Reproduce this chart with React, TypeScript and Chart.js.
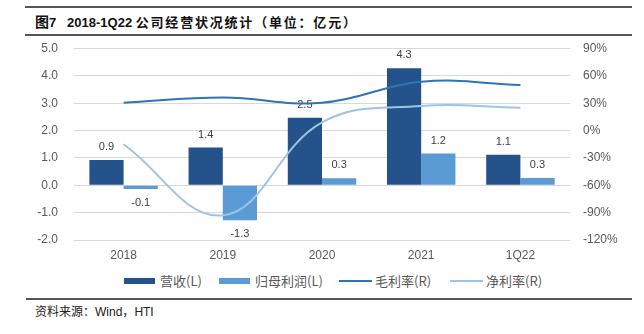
import React, { useEffect, useRef } from "react";
import { Chart, registerables } from "chart.js";

Chart.register(...registerables);

const categories = ["2018", "2019", "2020", "2021", "1Q22"];
const revenue = [0.92, 1.38, 2.47, 4.28, 1.12];
const netProfit = [-0.14, -1.28, 0.26, 1.16, 0.27];
const grossMargin = [30.5, 36.3, 30.4, 53.5, 50.0];
const netMargin = [-15, -93, 9, 27, 25];

const LATIN = '"Liberation Sans", Arial, "Noto Sans CJK SC", sans-serif';
const CJK = '"Noto Sans CJK SC", "Liberation Sans", sans-serif';

const C_REV = "#23538A";
const C_PROFIT = "#5B9BD5";
const C_GROSS = "#2E75B6";
const C_NET = "#9DC3E6";

const barLabels = {
  id: "barLabels",
  beforeDatasetsDraw(chart: any) {
    const ctx = chart.ctx;
    ctx.save();
    ctx.font = `11px ${LATIN}`;
    ctx.fillStyle = "#404040";
    ctx.textAlign = "center";
    ctx.textBaseline = "middle";
    [0, 1].forEach((di) => {
      const meta = chart.getDatasetMeta(di);
      const data = chart.data.datasets[di].data as number[];
      meta.data.forEach((bar: any, j: number) => {
        const v = data[j];
        const y = v >= 0 ? bar.y - 13 : bar.y + 14;
        ctx.fillText(v.toFixed(1), bar.x, y);
      });
    });
    ctx.restore();
  },
};

export default function App() {
  const ref = useRef<HTMLCanvasElement>(null);

  useEffect(() => {
    if (!ref.current) return;
    const chart = new Chart(ref.current, {
      type: "bar",
      data: {
        labels: categories,
        datasets: [
          {
            type: "bar",
            label: "营收(L)",
            data: revenue,
            backgroundColor: C_REV,
            yAxisID: "y",
            order: 2,
            barPercentage: 1,
            categoryPercentage: 0.69,
          },
          {
            type: "bar",
            label: "归母利润(L)",
            data: netProfit,
            backgroundColor: C_PROFIT,
            yAxisID: "y",
            order: 2,
            barPercentage: 1,
            categoryPercentage: 0.69,
          },
          {
            type: "line",
            label: "毛利率(R)",
            data: grossMargin,
            borderColor: C_GROSS,
            backgroundColor: C_GROSS,
            borderWidth: 2,
            pointRadius: 0,
            tension: 0.4,
            yAxisID: "y1",
            order: 0,
          },
          {
            type: "line",
            label: "净利率(R)",
            data: netMargin,
            borderColor: C_NET,
            backgroundColor: C_NET,
            borderWidth: 2,
            pointRadius: 0,
            tension: 0.4,
            yAxisID: "y1",
            order: 1,
          },
        ],
      } as any,
      options: {
        responsive: false,
        animation: false,
        layout: { padding: { top: 12.5, bottom: 0, left: 0, right: 0 } },
        plugins: {
          legend: { display: false },
          tooltip: { enabled: false },
        },
        scales: {
          x: {
            grid: { display: false, drawTicks: false },
            border: { display: false },
            ticks: {
              color: "#595959",
              font: { family: LATIN, size: 12 },
              padding: 8,
              maxRotation: 0,
            },
            afterFit(scale: any) {
              scale.height = 28;
            },
          },
          y: {
            position: "left",
            min: -2,
            max: 5,
            grid: { color: "#D9D9D9", lineWidth: 1, drawTicks: false },
            border: { display: false },
            ticks: {
              stepSize: 1,
              color: "#595959",
              font: { family: LATIN, size: 12 },
              padding: 16,
              callback: (v: any) => Number(v).toFixed(1),
            },
            afterFit(scale: any) {
              scale.width = 74;
              scale.paddingTop = 6;
              scale.paddingBottom = 6;
            },
          },
          y1: {
            position: "right",
            min: -120,
            max: 90,
            grid: { display: false, drawTicks: false },
            border: { display: false },
            ticks: {
              stepSize: 30,
              color: "#595959",
              font: { family: LATIN, size: 12 },
              padding: 13,
              callback: (v: any) => `${v}%`,
            },
            afterFit(scale: any) {
              scale.width = 74;
              scale.paddingTop = 6;
              scale.paddingBottom = 6;
            },
          },
        },
      } as any,
      plugins: [barLabels],
    });
    return () => chart.destroy();
  }, []);

  const legendText: React.CSSProperties = {
    position: "absolute",
    top: 272,
    fontFamily: CJK,
    fontSize: 13,
    color: "#595959",
    lineHeight: "18px",
    whiteSpace: "nowrap",
  };

  return (
    <div
      style={{
        position: "absolute",
        left: 0,
        top: 0,
        width: 644,
        height: 334,
        background: "#fff",
        overflow: "hidden",
      }}
    >
      <div style={{ position: "absolute", left: 25, top: 6, width: 607, height: 1.5, background: "#555" }} />
      <div
        style={{
          position: "absolute",
          left: 35,
          top: 11,
          whiteSpace: "pre",
          fontWeight: "bold",
          color: "#111",
          lineHeight: "20px",
        }}
      >
        <span style={{ fontFamily: CJK, fontSize: 14 }}>图</span>
        <span style={{ fontFamily: LATIN, fontSize: 13 }}>7   2018-1Q22 </span>
        <span style={{ fontFamily: CJK, fontSize: 13, letterSpacing: "1.8px" }}>公司经营状况统计（单位：亿元）</span>
      </div>
      <div style={{ position: "absolute", left: 25, top: 34, width: 607, height: 1.5, background: "#555" }} />

      <canvas
        ref={ref}
        width={644}
        height={232}
        style={{ position: "absolute", left: 0, top: 36, width: 644, height: 232, display: "block" }}
      />

      <div style={{ position: "absolute", left: 124, top: 278, width: 31, height: 6, background: C_REV }} />
      <div style={{ ...legendText, left: 160 }}>营收(L)</div>
      <div style={{ position: "absolute", left: 219, top: 278, width: 31, height: 6, background: C_PROFIT }} />
      <div style={{ ...legendText, left: 255 }}>归母利润(L)</div>
      <div style={{ position: "absolute", left: 339, top: 280, width: 33, height: 2, background: C_GROSS }} />
      <div style={{ ...legendText, left: 375 }}>毛利率(R)</div>
      <div style={{ position: "absolute", left: 450, top: 280, width: 33, height: 2, background: C_NET }} />
      <div style={{ ...legendText, left: 486 }}>净利率(R)</div>

      <div style={{ position: "absolute", left: 26, top: 298, width: 606, height: 1.5, background: "#555" }} />
      <div
        style={{
          position: "absolute",
          left: 35,
          top: 302,
          fontFamily: CJK,
          fontSize: 12,
          color: "#222",
          lineHeight: "18px",
          whiteSpace: "nowrap",
        }}
      >
        资料来源：<span style={{ fontFamily: LATIN }}>Wind</span>，<span style={{ fontFamily: LATIN }}>HTI</span>
      </div>
    </div>
  );
}
